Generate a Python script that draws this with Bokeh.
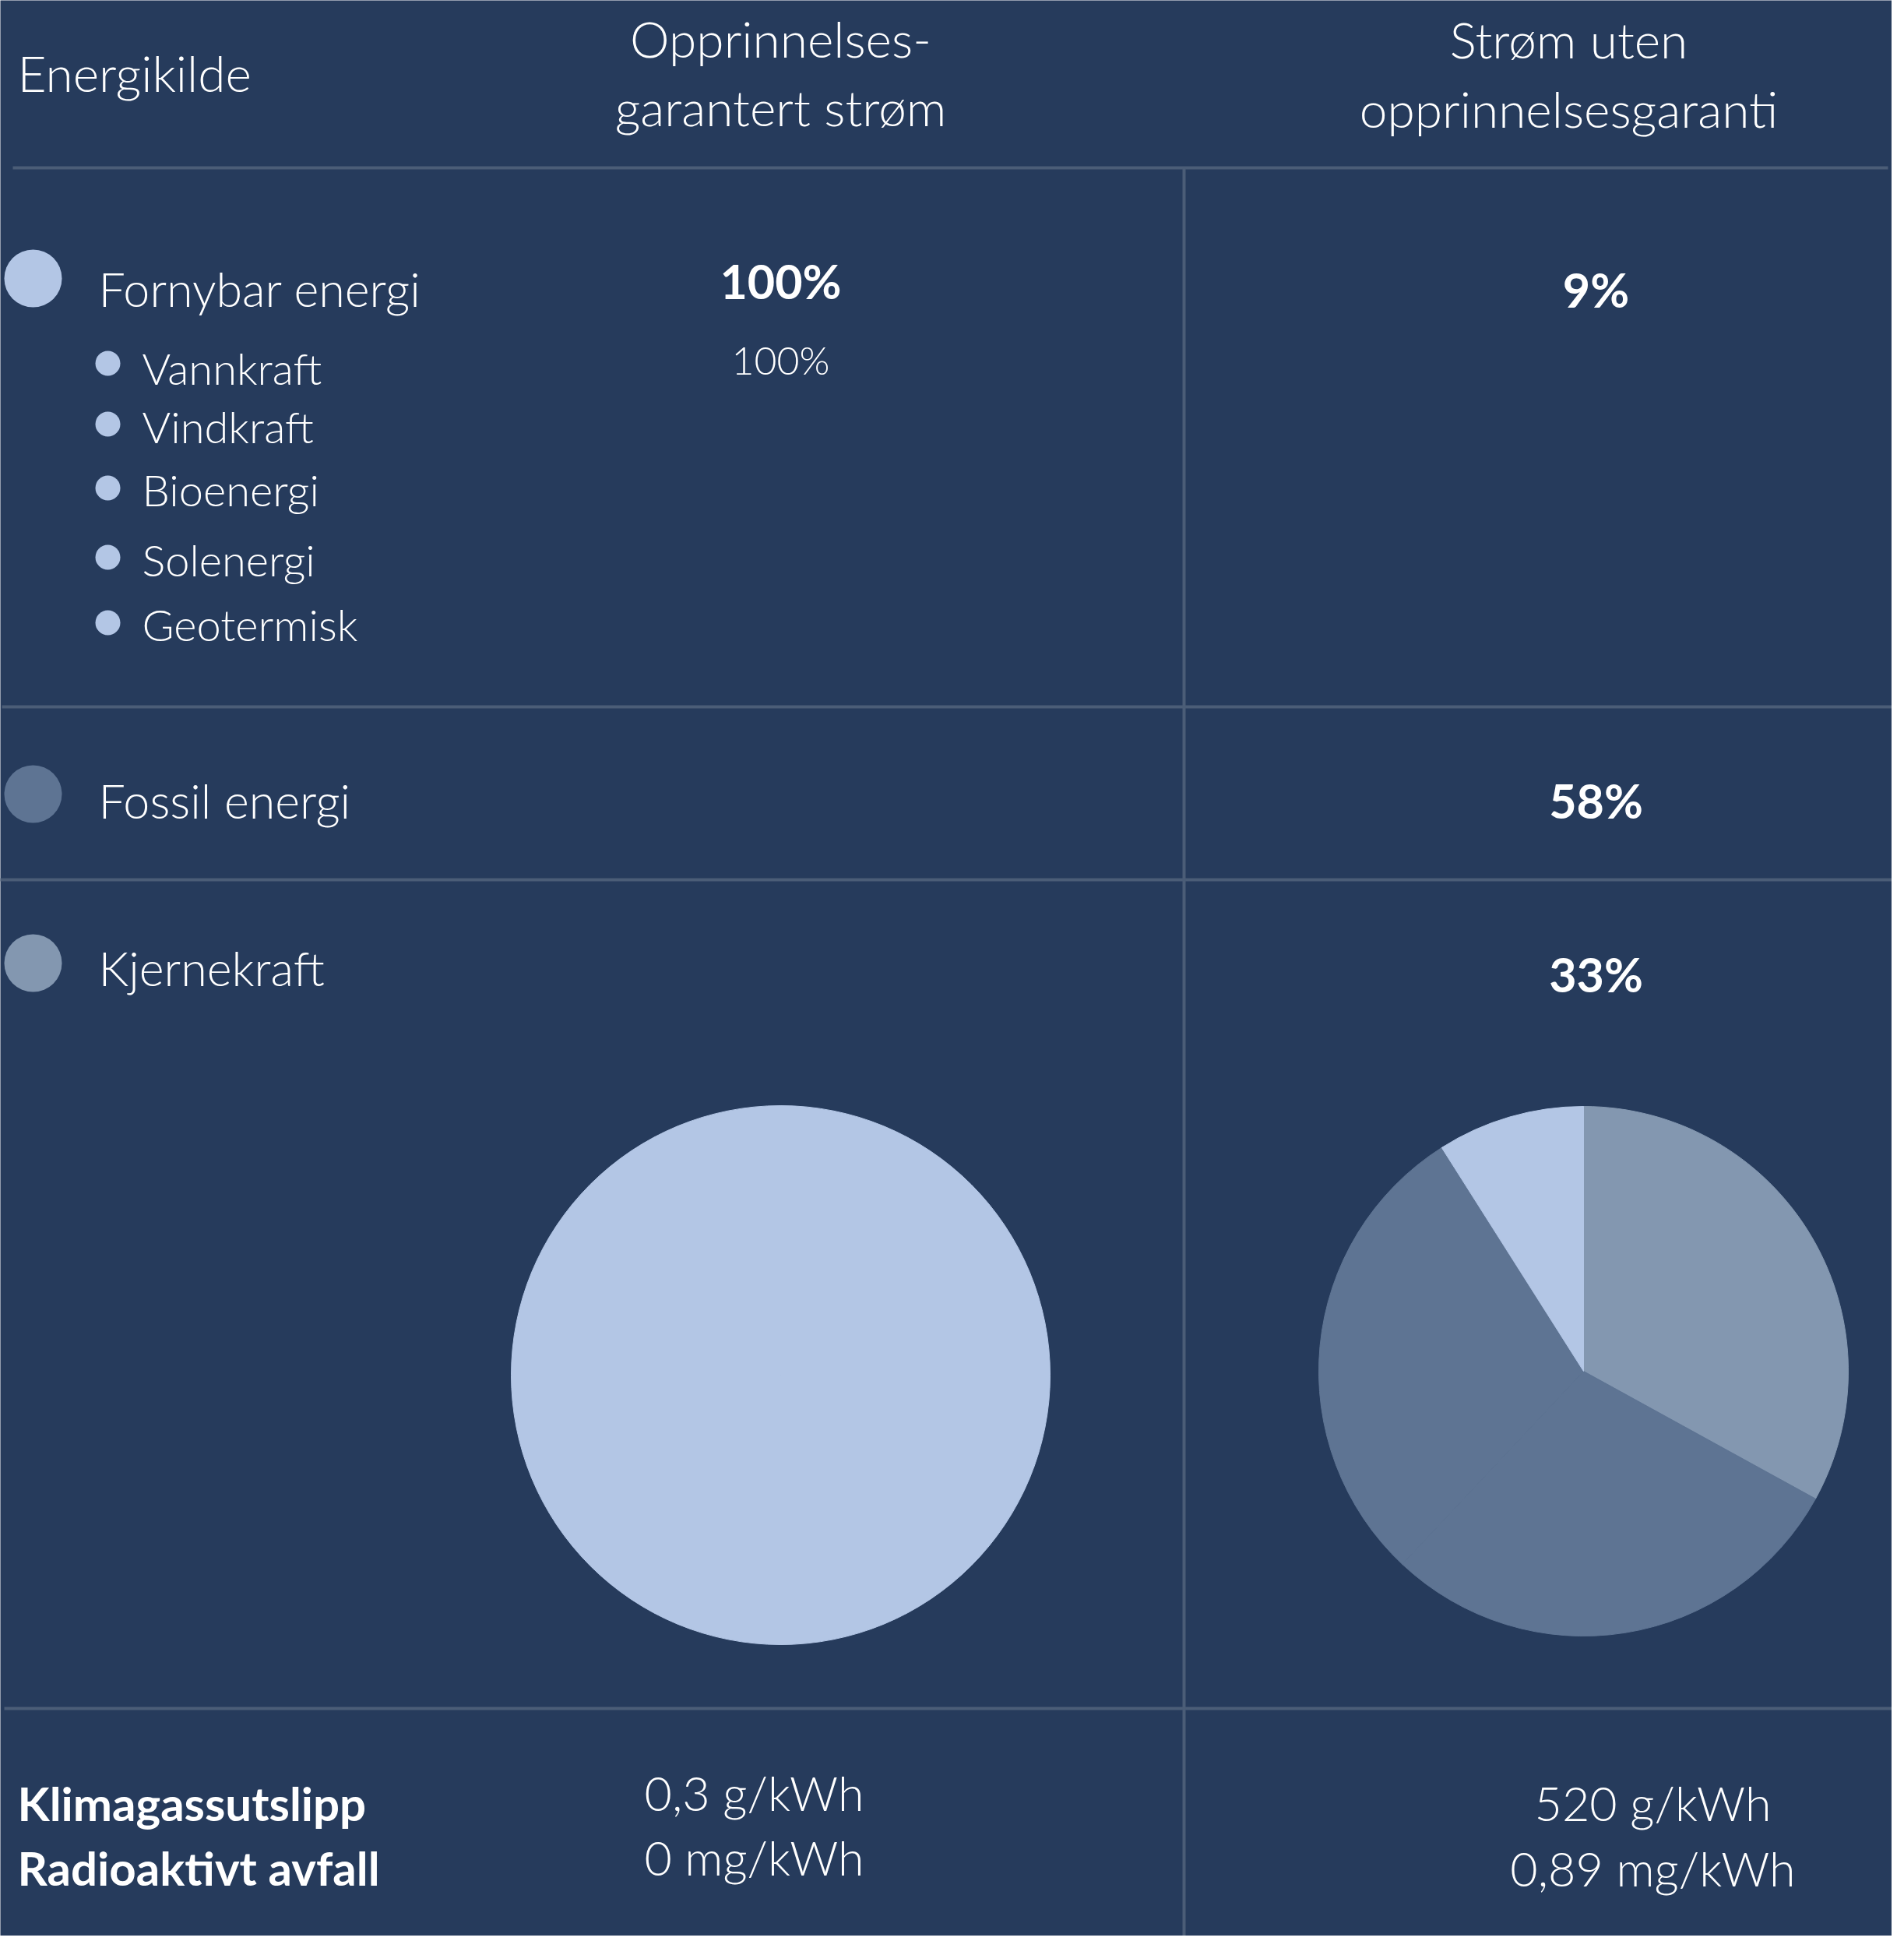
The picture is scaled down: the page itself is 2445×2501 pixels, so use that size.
import math
from bokeh.plotting import figure
from bokeh.models import ColumnDataSource, Range1d
from bokeh.core.properties import value
from bokeh.embed import file_html
from bokeh.resources import INLINE

# ---------------- data ----------------
header_labels = ["Energikilde", "Opprinnelses-\ngarantert strøm", "Strøm uten\nopprinnelsesgaranti"]
sources = ["Fornybar energi", "Fossil energi", "Kjernekraft"]
source_colors = ["#B3C6E5", "#5E7493", "#8397B0"]
renewable_types = ["Vannkraft", "Vindkraft", "Bioenergi", "Solenergi", "Geotermisk"]
guaranteed_pct = [100, 0, 0]          # Fornybar, Fossil, Kjernekraft
guaranteed_sub = ["100%"]             # Vannkraft share
unguaranteed_pct = [9, 58, 33]
metric_labels = ["Klimagassutslipp", "Radioaktivt avfall"]
guaranteed_metrics = ["0,3 g/kWh", "0 mg/kWh"]
unguaranteed_metrics = ["520 g/kWh", "0,89 mg/kWh"]
pie_order = [2, 1, 0]                 # clockwise from 12 o'clock: Kjernekraft, Fossil, Fornybar

BG = "#263B5C"
LINE = "#4B5D77"
FONT = value("Lato")
LIGHT = value("Lato Light")
DY = 18  # text baseline correction

W, H = 2429, 2485
p = figure(width=W, height=H, output_backend="svg", toolbar_location=None,
           x_range=Range1d(8, 8 + W), y_range=Range1d(8, 8 + H),
           min_border=0, background_fill_color=BG, border_fill_color=BG,
           outline_line_color=None)
p.axis.visible = False
p.grid.visible = False

def Y(y):
    return 2501 - y

def TY(y):
    return 2501 - (y - DY)

# ---------------- grid lines ----------------
p.segment(x0=[24, 10, 5, 13, 1528], y0=[Y(223), Y(915), Y(1137), Y(2201), Y(223)],
          x1=[2432, 2445, 2440, 2445, 1528], y1=[Y(223), Y(915), Y(1137), Y(2201), Y(2501)],
          line_color=LINE, line_width=4)

# ---------------- text helper ----------------
def add_text(xs, ys, texts, size, style="normal", align="left", color="white", font=LIGHT):
    src = ColumnDataSource(dict(x=xs, y=[TY(v) for v in ys], t=texts))
    p.text(x="x", y="y", text="t", source=src, text_font=font, text_font_size=size,
           text_font_style=style, text_align=align, text_baseline="alphabetic",
           text_color=color)

# ---------------- header ----------------
add_text([30], [119], [header_labels[0]], "64px")
add_text([1010, 1010], [75, 163], header_labels[1].split("\n"), "64px", align="center")
add_text([2022, 2022], [76, 165], header_labels[2].split("\n"), "64px", align="center")

# ---------------- legend column ----------------
legend_cy = [365, 1027, 1244]
p.scatter(x=[50, 50, 50], y=[Y(c) for c in legend_cy], size=74, marker="circle",
          fill_color=source_colors, line_color=None)
add_text([134, 134, 134], [396, 1053, 1268], sources, "61px")

sub_cy = [474, 552, 634, 723, 807]
sub_base = [498, 573, 654, 744, 827]
p.scatter(x=[146] * 5, y=[Y(c) for c in sub_cy], size=32, marker="circle",
          fill_color=source_colors[0], line_color=None)
add_text([190] * 5, sub_base, renewable_types, "56px")

# ---------------- percentages ----------------
add_text([1010], [386], [f"{guaranteed_pct[0]}%"], "61px", style="bold", align="center", font=FONT)
add_text([1010], [487], guaranteed_sub, "50px", align="center")
add_text([2057, 2057, 2057], [397, 1053, 1276],
         [f"{v}%" for v in unguaranteed_pct], "61px", style="bold", align="center", font=FONT)

# ---------------- pies ----------------
def pie(cx, cy, r, vals):
    total = float(sum(vals))
    starts, ends, cols = [], [], []
    cum = 0.0
    for i in pie_order:
        frac = vals[i] / total
        if frac <= 0:
            continue
        # split large slices in two pieces so full circles render
        pieces = 2 if frac > 0.5 else 1
        for _ in range(pieces):
            starts.append(math.pi / 2 - cum * 2 * math.pi)
            cum += frac / pieces
            ends.append(math.pi / 2 - cum * 2 * math.pi)
            cols.append(source_colors[i])
    src = ColumnDataSource(dict(x=[cx] * len(cols), y=[Y(cy)] * len(cols),
                                s=starts, e=ends, c=cols))
    p.wedge(x="x", y="y", radius=r, start_angle="s", end_angle="e", direction="clock",
            fill_color="c", line_color="c", line_width=1, source=src)

pie(1010, 1773, 346, guaranteed_pct)
pie(2041, 1768, 340, unguaranteed_pct)

# ---------------- bottom metrics ----------------
add_text([30, 30], [2340, 2423], metric_labels, "60px", style="bold", font=FONT)
add_text([976, 976], [2327, 2410], guaranteed_metrics, "61px", align="center")
add_text([2130, 2130], [2340, 2424], unguaranteed_metrics, "61px", align="center")

open("out.html", "w").write(file_html(p, INLINE))
